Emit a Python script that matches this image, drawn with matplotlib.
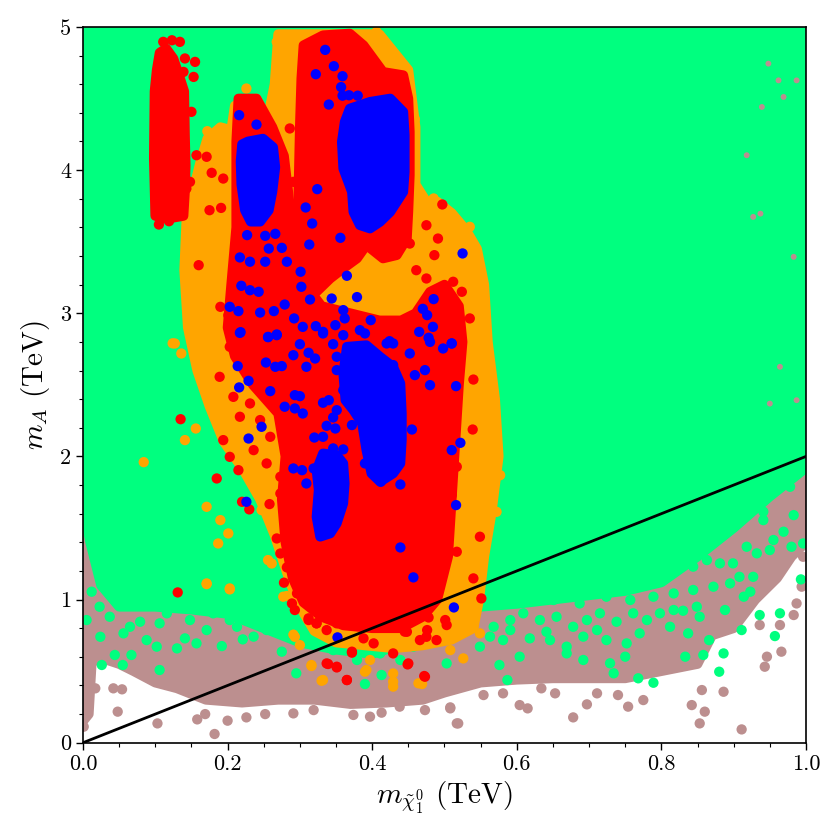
import matplotlib
matplotlib.use("Agg")
import matplotlib.pyplot as plt
from matplotlib.ticker import MultipleLocator

plt.rcParams['font.family'] = 'serif'
plt.rcParams['font.serif'] = ['cmr10', 'DejaVu Serif']
plt.rcParams['mathtext.fontset'] = 'cm'
plt.rcParams['axes.formatter.use_mathtext'] = True

# ---------------- data (TeV) ----------------
# brown (all points) : outline of dense band + sparse points
brown_poly_x = [0.0, 0.008, 0.012, 0.02, 0.05, 0.07, 0.1, 0.13, 0.17, 0.22, 0.27, 0.32, 0.37, 0.42, 0.47, 0.5,
                0.55, 0.6, 0.65, 0.7, 0.75, 0.8, 0.85, 0.87, 0.9, 0.93, 0.96, 0.98, 1.0, 1.0, 0.0]
brown_poly_y = [0.15, 0.2, 0.55, 0.6, 0.55, 0.5, 0.42, 0.38, 0.3, 0.28, 0.3, 0.3, 0.27, 0.28, 0.3, 0.35,
                0.42, 0.44, 0.45, 0.45, 0.45, 0.5, 0.55, 0.75, 0.8, 1.0, 1.15, 1.3, 1.4, 5.0, 5.0]
brown_x = [0.519, 0.508, 0.554, 0.581, 0.604, 0.615, 0.634, 0.653, 0.678, 0.697, 0.711, 0.740, 0.754, 0.775,
           0.842, 0.856, 0.860, 0.853, 0.886, 0.911, 0.943, 0.966, 0.946, 0.983, 0.987, 0.994, 0.996, 0.964,
           0.936, 0.001, 0.048, 0.103, 0.182, 0.158, 0.169, 0.200, 0.226, 0.252, 0.291, 0.319, 0.374, 0.397,
           0.413, 0.438, 0.473, 0.508, 0.517, 0.042, 0.054, 0.017, 0.010, 0.130]
brown_y = [0.135, 0.24, 0.333, 0.345, 0.263, 0.24, 0.38, 0.345, 0.177, 0.268, 0.345, 0.333, 0.252, 0.298,
           0.263, 0.368, 0.217, 0.135, 0.356, 0.093, 0.531, 0.636, 0.601, 0.892, 0.973, 1.09, 1.299, 0.822,
           0.822, 0.112, 0.217, 0.135, 0.061, 0.163, 0.2, 0.154, 0.177, 0.2, 0.205, 0.228, 0.194, 0.182,
           0.21, 0.252, 0.228, 0.247, 0.135, 0.38, 0.373, 0.38, 0.508, 0.403]
speck_x = [0.948, 0.962, 0.987, 0.939, 0.969, 0.918, 0.927, 0.983, 0.964, 0.950, 0.987, 0.937]
speck_y = [4.744, 4.627, 4.627, 4.441, 4.511, 4.104, 3.673, 3.394, 2.626, 2.369, 2.393, 3.696]

# green
green_poly_x = [0.0, 0.01, 0.025, 0.05, 0.1, 0.15, 0.2, 0.25, 0.3, 0.35, 0.4, 0.45, 0.5, 0.55, 0.6, 0.65,
                0.7, 0.75, 0.8, 0.85, 0.9, 0.95, 1.0, 1.0, 0.0]
green_poly_y = [1.65, 1.4, 1.1, 0.95, 0.95, 0.93, 0.9, 0.8, 0.7, 0.65, 0.62, 0.7, 0.85, 0.95, 0.97, 1.0,
                1.03, 1.06, 1.12, 1.3, 1.5, 1.72, 1.92, 5.0, 5.0]
green_x = [0.026, 0.055, 0.067, 0.044, 0.106, 0.130, 0.088, 0.141, 0.192, 0.221, 0.236, 0.254, 0.275, 0.295,
           0.390, 0.413, 0.079, 0.106, 0.171, 0.203, 0.056, 0.023, 0.012, 0.134, 0.245,
           0.587, 0.576, 0.604, 0.646, 0.669, 0.692, 0.734, 0.768, 0.789, 0.833, 0.858, 0.880, 0.886, 0.866,
           0.837, 0.911, 0.957, 0.964, 0.936, 0.914, 0.923, 0.927, 0.993, 0.888, 0.849, 0.830, 0.752, 0.724,
           0.711, 0.692, 0.618, 0.581, 0.563, 0.549, 0.591, 0.641, 0.750, 0.729, 0.669, 0.983, 0.969, 0.980,
           0.955, 0.941, 0.941, 0.996, 0.978, 0.973, 0.899, 0.881, 0.863, 0.844, 0.932, 0.950, 0.918,
           0.540, 0.568, 0.591, 0.609, 0.632, 0.655, 0.678, 0.697, 0.715, 0.738, 0.761, 0.780, 0.798, 0.817,
           0.614, 0.651, 0.687, 0.724, 0.757, 0.789, 0.817, 0.844, 0.872, 0.895, 0.908, 0.853, 0.812, 0.770,
           0.005, 0.037, 0.065, 0.116, 0.148, 0.180, 0.213, 0.227, 0.263, 0.282, 0.024, 0.157, 0.102,
           0.379, 0.411, 0.439, 0.457, 0.346, 0.503]
green_y = [0.543, 0.543, 0.613, 0.613, 0.508, 0.659, 0.717, 0.729, 0.675, 0.722, 0.741, 0.787, 0.636, 0.485,
           0.41, 0.473, 0.845, 0.834, 0.787, 0.857, 0.764, 0.95, 1.055, 0.95, 0.95,
           0.438, 0.543, 0.601, 0.717, 0.624, 0.578, 0.485, 0.45, 0.419, 0.601, 0.613, 0.496, 0.624, 0.717,
           0.764, 0.787, 0.745, 0.904, 0.892, 1.02, 1.055, 1.159, 1.141, 0.927, 0.95, 0.922, 0.694, 0.717,
           0.787, 0.741, 0.729, 0.717, 0.741, 0.671, 0.787, 0.775, 0.601, 0.555, 0.671, 1.59, 1.474, 1.369,
           1.416, 1.555, 1.614, 1.392, 1.788, 1.881, 1.253, 1.253, 1.276, 1.23, 1.323, 1.346, 1.369,
           0.88, 0.81, 0.857, 0.904, 0.857, 0.88, 0.81, 0.857, 0.904, 0.845, 0.904, 0.857, 0.904, 0.927,
           1.02, 0.997, 0.973, 1.02, 0.997, 1.02, 1.043, 1.067, 1.09, 1.113, 1.159, 0.88, 0.81, 0.764,
           0.857, 0.88, 0.81, 0.904, 0.857, 0.904, 0.81, 0.927, 0.88, 0.973, 0.74, 0.694, 0.671,
           0.578, 0.624, 0.578, 0.671, 0.647, 0.554]

# orange
orange_poly_x = [0.27, 0.41, 0.45, 0.46, 0.46, 0.475, 0.49, 0.51, 0.53, 0.545, 0.555, 0.56, 0.57, 0.575,
                 0.565, 0.555, 0.548, 0.54, 0.51, 0.47, 0.43, 0.39, 0.35, 0.32, 0.3, 0.288, 0.278, 0.265,
                 0.245, 0.22, 0.195, 0.175, 0.158, 0.145, 0.14, 0.143, 0.152, 0.162, 0.172, 0.19, 0.205, 0.21,
                 0.24, 0.255, 0.265]
orange_poly_y = [4.95, 4.95, 4.7, 4.3, 3.9, 3.78, 3.78, 3.7, 3.58, 3.45, 3.2, 2.8, 2.4, 2.0, 1.6, 1.3, 1.0,
                 0.8, 0.72, 0.68, 0.66, 0.68, 0.7, 0.78, 0.95, 1.1, 1.25, 1.45, 1.7, 1.92, 2.1, 2.35, 2.6,
                 2.9, 3.3, 3.65, 3.85, 4.05, 4.22, 4.3, 4.28, 4.45, 4.5, 4.35, 4.6]
orange_x = [0.141, 0.156, 0.160, 0.171, 0.190, 0.201, 0.187, 0.171, 0.203, 0.256, 0.261, 0.247, 0.540, 0.565,
            0.577, 0.572, 0.558, 0.554, 0.540, 0.549, 0.526, 0.464, 0.429, 0.392, 0.332, 0.316, 0.293, 0.277,
            0.226, 0.172, 0.192, 0.203, 0.176, 0.459, 0.485, 0.498, 0.514, 0.535, 0.471, 0.127, 0.136, 0.148,
            0.268, 0.283, 0.406, 0.411, 0.397, 0.124, 0.084,
            0.171, 0.203, 0.282, 0.291, 0.300, 0.316, 0.330, 0.390, 0.397, 0.429, 0.429, 0.469, 0.432, 0.452,
            0.494, 0.508, 0.457, 0.397, 0.356, 0.328]
orange_y = [2.114, 2.195, 2.626, 1.648, 1.555, 1.462, 1.392, 1.113, 1.078, 1.276, 1.252, 1.625, 2.649, 2.463,
            1.869, 1.613, 1.532, 1.299, 0.81, 0.764, 0.589, 0.415, 0.484, 0.508, 0.438, 0.543, 0.74, 1.02,
            4.57, 4.272, 4.267, 4.186, 3.988, 4.356, 3.802, 3.743, 3.667, 3.604, 3.755, 2.789, 2.719, 2.847,
            4.896, 4.942, 4.966, 4.872, 4.919, 2.79, 1.96,
            1.108, 1.071, 1.025, 0.755, 0.682, 0.536, 0.433, 0.496, 0.578, 0.426, 0.392, 0.41, 0.682, 0.787,
            0.752, 0.647, 0.857, 0.822, 0.834, 0.787]

# red
red1_poly_x = [0.100, 0.116, 0.139, 0.141, 0.142, 0.141, 0.140, 0.133, 0.125, 0.115, 0.106, 0.102, 0.099,
               0.098]
red1_poly_y = [3.68, 3.66, 3.68, 3.848, 4.034, 4.25, 4.55, 4.66, 4.78, 4.85, 4.82, 4.7, 4.55, 4.081]
red2_poly_x = [0.305, 0.332, 0.369, 0.388, 0.415, 0.443, 0.450, 0.452, 0.452, 0.450, 0.448, 0.434, 0.415,
               0.392, 0.379, 0.360, 0.342, 0.323, 0.305, 0.300, 0.298, 0.300, 0.302]
red2_poly_y = [4.872, 4.942, 4.954, 4.872, 4.686, 4.663, 4.5, 4.267, 3.965, 3.708, 3.522, 3.406, 3.383,
               3.476, 3.383, 3.313, 3.243, 3.15, 3.173, 3.383, 3.848, 4.314, 4.64]
red3_poly_x = [0.215, 0.24, 0.262, 0.278, 0.285, 0.29, 0.3, 0.33, 0.37, 0.41, 0.44, 0.46, 0.48, 0.5, 0.52,
               0.525, 0.52, 0.515, 0.51, 0.505, 0.49, 0.47, 0.44, 0.4, 0.36, 0.33, 0.305, 0.29, 0.28, 0.275,
               0.28, 0.27, 0.235, 0.21, 0.2, 0.205, 0.212, 0.212]
red3_poly_y = [4.5, 4.5, 4.3, 4.1, 3.8, 3.5, 3.25, 3.05, 3.0, 2.95, 2.95, 3.0, 3.15, 3.2, 3.05, 2.8, 2.5,
               2.1, 1.7, 1.3, 1.0, 0.88, 0.8, 0.8, 0.82, 0.88, 0.98, 1.15, 1.4, 1.7, 2.0, 2.3, 2.5, 2.7, 2.9,
               3.2, 3.6, 4.2]
red_x = [0.111, 0.123, 0.134, 0.141, 0.155, 0.153, 0.139, 0.150, 0.157, 0.148, 0.105, 0.119, 0.143,
         0.189, 0.185, 0.215, 0.220, 0.230, 0.258, 0.273, 0.268, 0.273, 0.282, 0.296, 0.293, 0.312, 0.323,
         0.337, 0.351, 0.360, 0.372, 0.351, 0.337, 0.365, 0.388, 0.402, 0.429, 0.450, 0.473, 0.478, 0.448,
         0.466, 0.475, 0.503, 0.501, 0.551, 0.540, 0.549, 0.517, 0.539, 0.540, 0.511, 0.517, 0.510,
         0.475, 0.497, 0.491, 0.486, 0.461, 0.475, 0.512, 0.494, 0.524, 0.535, 0.508, 0.457, 0.461, 0.485,
         0.452, 0.443, 0.160, 0.175, 0.191, 0.178, 0.171, 0.194, 0.190, 0.201, 0.286, 0.291, 0.289,
         0.135, 0.131,
         0.203, 0.226, 0.240, 0.208, 0.231, 0.249, 0.217, 0.245, 0.259, 0.236, 0.254, 0.273, 0.203, 0.194,
         0.278, 0.289, 0.312, 0.323, 0.339, 0.351, 0.365, 0.449, 0.472, 0.489, 0.476, 0.445, 0.392, 0.429,
         0.372]
red_y = [4.896, 4.907, 4.896, 4.78, 4.756, 4.651, 4.686, 4.407, 4.104, 3.918, 3.62, 3.643, 3.871,
         2.556, 1.846, 1.904, 1.683, 1.63, 1.667, 1.741, 1.427, 1.322, 1.225, 1.043, 0.927, 0.857, 0.834,
         0.787, 0.834, 0.875, 0.629, 0.526, 0.554, 0.438, 0.729, 0.694, 0.624, 0.554, 0.461, 0.875, 0.775,
         0.717, 0.74, 0.822, 0.857, 1.008, 1.148, 1.439, 1.334, 2.188, 2.537, 2.358, 1.928, 1.73,
         3.615, 3.76, 3.522, 3.406, 3.301, 3.243, 3.22, 3.15, 3.15, 2.964, 2.987, 2.964, 2.871, 2.777,
         3.487, 3.522, 3.336, 3.72, 3.736, 3.981, 4.093, 3.941, 3.045, 2.987, 4.291, 3.918, 3.755,
         2.26, 1.05,
         2.766, 2.696, 2.579, 2.416, 2.37, 2.486, 2.277, 2.254, 2.137, 2.044, 1.951, 1.858, 1.997, 2.114,
         1.118, 0.973, 0.869, 0.834, 0.55, 0.531, 0.438, 0.547, 0.466, 0.717, 0.787, 0.776, 0.88, 0.927,
         0.636]

# blue
blue1_poly_x = [0.228, 0.249, 0.263, 0.266, 0.262, 0.257, 0.245, 0.232, 0.224, 0.219, 0.218, 0.220]
blue1_poly_y = [4.2, 4.22, 4.16, 4.02, 3.85, 3.72, 3.64, 3.64, 3.72, 3.9, 4.06, 4.18]
blue2_poly_x = [0.369, 0.397, 0.425, 0.443, 0.445, 0.445, 0.443, 0.425, 0.411, 0.397, 0.383, 0.374, 0.372,
                0.360, 0.358, 0.362]
blue2_poly_y = [4.43, 4.477, 4.5, 4.407, 4.244, 3.988, 3.848, 3.708, 3.639, 3.592, 3.615, 3.708, 3.848,
                4.011, 4.197, 4.337]
blue3_poly_x = [0.365, 0.392, 0.411, 0.429, 0.439, 0.441, 0.441, 0.439, 0.429, 0.411, 0.399, 0.392, 0.386,
                0.374, 0.363, 0.360]
blue3_poly_y = [2.766, 2.777, 2.696, 2.626, 2.51, 2.3, 2.114, 1.951, 1.881, 1.823, 1.881, 2.044, 2.23,
                2.323, 2.393, 2.579]
blue4_poly_x = [0.332, 0.351, 0.360, 0.362, 0.360, 0.351, 0.342, 0.328, 0.323, 0.326, 0.323]
blue4_poly_y = [2.021, 2.009, 1.951, 1.811, 1.672, 1.532, 1.462, 1.439, 1.578, 1.765, 1.904]
blue_x = [0.335, 0.322, 0.347, 0.359, 0.357, 0.359, 0.368, 0.380, 0.340, 0.216, 0.240, 0.324, 0.308, 0.317,
          0.356, 0.313, 0.227, 0.252, 0.266, 0.257, 0.275, 0.217, 0.231, 0.252, 0.282, 0.301, 0.302, 0.365,
          0.379, 0.344, 0.314, 0.243, 0.231, 0.219, 0.203, 0.215, 0.245, 0.264, 0.279, 0.292, 0.304, 0.322,
          0.332, 0.349, 0.360, 0.362, 0.383, 0.398, 0.424, 0.485, 0.470, 0.476, 0.484, 0.478, 0.510, 0.525,
          0.218, 0.256, 0.268,
          0.217, 0.256, 0.268, 0.300, 0.312, 0.321, 0.291, 0.332, 0.346, 0.360, 0.390, 0.420, 0.429, 0.465,
          0.480, 0.498, 0.510, 0.452, 0.429, 0.459, 0.473, 0.480, 0.516, 0.214, 0.229, 0.216, 0.253, 0.266,
          0.275, 0.259, 0.293, 0.300, 0.279, 0.293, 0.304, 0.247, 0.229, 0.309, 0.351, 0.351, 0.360, 0.332,
          0.340, 0.351, 0.346, 0.337, 0.349, 0.372, 0.320, 0.332, 0.346, 0.360, 0.455, 0.522, 0.510, 0.390,
          0.412, 0.439, 0.226, 0.291, 0.303, 0.319, 0.309, 0.516, 0.439, 0.457, 0.513, 0.352]
blue_y = [4.84, 4.67, 4.726, 4.656, 4.58, 4.52, 4.523, 4.52, 4.458, 4.384, 4.318, 3.867, 3.739, 3.627,
          3.527, 3.48, 3.546, 3.541, 3.555, 3.452, 3.457, 3.39, 3.36, 3.36, 3.36, 3.29, 3.185, 3.262,
          3.113, 3.103, 3.096, 3.15, 3.161, 3.192, 3.045, 3.015, 3.005, 3.015, 3.061, 2.964, 2.905, 2.91,
          2.87, 2.917, 3.022, 2.964, 2.882, 2.952, 2.805, 3.099, 3.031, 2.987, 2.905, 2.829, 2.789, 3.418,
          2.868, 2.833, 2.852,
          2.863, 2.835, 2.847, 2.784, 2.724, 2.684, 2.707, 2.859, 2.784, 2.847, 2.859, 2.789, 2.789, 2.87,
          2.8, 2.754, 2.789, 2.719, 2.638, 2.568, 2.603, 2.498, 2.491, 2.631, 2.528, 2.482, 2.656, 2.626,
          2.631, 2.456, 2.428, 2.421, 2.347, 2.335, 2.3, 2.207, 2.125, 2.626, 2.696, 2.603, 2.463, 2.375,
          2.393, 2.323, 2.272, 2.214, 2.195, 2.219, 2.132, 2.137, 2.056, 2.049, 2.188, 2.095, 2.044, 1.951,
          1.823, 1.804, 1.683, 1.916, 1.904, 1.916, 1.811, 1.66, 1.364, 1.155, 0.945, 0.736]

line_x = [0.0, 1.0]
line_y = [0.0, 2.0]

# ---------------- plot ----------------
BROWN = '#bc8f8f'
GREEN = '#00ff7f'
ORANGE = '#ffa500'
RED = '#ff0000'
BLUE = '#0000ff'
S = 55
EDGE_LW = 7.0

fig = plt.figure(figsize=(8.4, 8.4), dpi=100)
ax = fig.add_axes([0.0988, 0.1158, 0.8607, 0.8521])


def blob(px, py, color, z):
    ax.fill(px, py, facecolor=color, edgecolor=color, linewidth=EDGE_LW,
            joinstyle='round', zorder=z)


def pts(px, py, color, z, s=S):
    ax.scatter(px, py, s=s, c=color, edgecolors='none', zorder=z)


blob(brown_poly_x, brown_poly_y, BROWN, 1)
pts(brown_x, brown_y, BROWN, 1.1)
blob(green_poly_x, green_poly_y, GREEN, 2)
pts(green_x, green_y, GREEN, 2.1)
pts(speck_x, speck_y, BROWN, 2.2, s=18)
blob(orange_poly_x, orange_poly_y, ORANGE, 3)
pts(orange_x, orange_y, ORANGE, 3.1)
blob(red1_poly_x, red1_poly_y, RED, 4)
blob(red2_poly_x, red2_poly_y, RED, 4)
blob(red3_poly_x, red3_poly_y, RED, 4)
pts(red_x, red_y, RED, 4.1)
blob(blue1_poly_x, blue1_poly_y, BLUE, 5)
blob(blue2_poly_x, blue2_poly_y, BLUE, 5)
blob(blue3_poly_x, blue3_poly_y, BLUE, 5)
blob(blue4_poly_x, blue4_poly_y, BLUE, 5)
pts(blue_x, blue_y, BLUE, 5.1)

ax.plot(line_x, line_y, color='black', linewidth=2.0, zorder=10)

ax.set_xlim(0, 1.0)
ax.set_ylim(0, 5)
ax.xaxis.set_major_locator(MultipleLocator(0.2))
ax.xaxis.set_minor_locator(MultipleLocator(0.05))
ax.yaxis.set_major_locator(MultipleLocator(1))
ax.yaxis.set_minor_locator(MultipleLocator(0.2))
ax.xaxis.set_major_formatter(plt.FuncFormatter(lambda v, p: f'{v:.1f}'))
ax.yaxis.set_major_formatter(plt.FuncFormatter(lambda v, p: f'{v:.0f}'))
ax.tick_params(which='major', direction='out', length=5, width=1, labelsize=16, top=False, right=False)
ax.tick_params(which='minor', direction='out', length=3, width=0.8, top=False, right=False)
for sp in ax.spines.values():
    sp.set_linewidth(1.2)
    sp.set_zorder(11)

ax.set_xlabel(r'$m_{\tilde{\chi}_1^0}$ (TeV)', fontsize=21, labelpad=4)
ax.set_ylabel(r'$m_A$ (TeV)', fontsize=21, labelpad=6)

fig.savefig('out.png', dpi=100)
